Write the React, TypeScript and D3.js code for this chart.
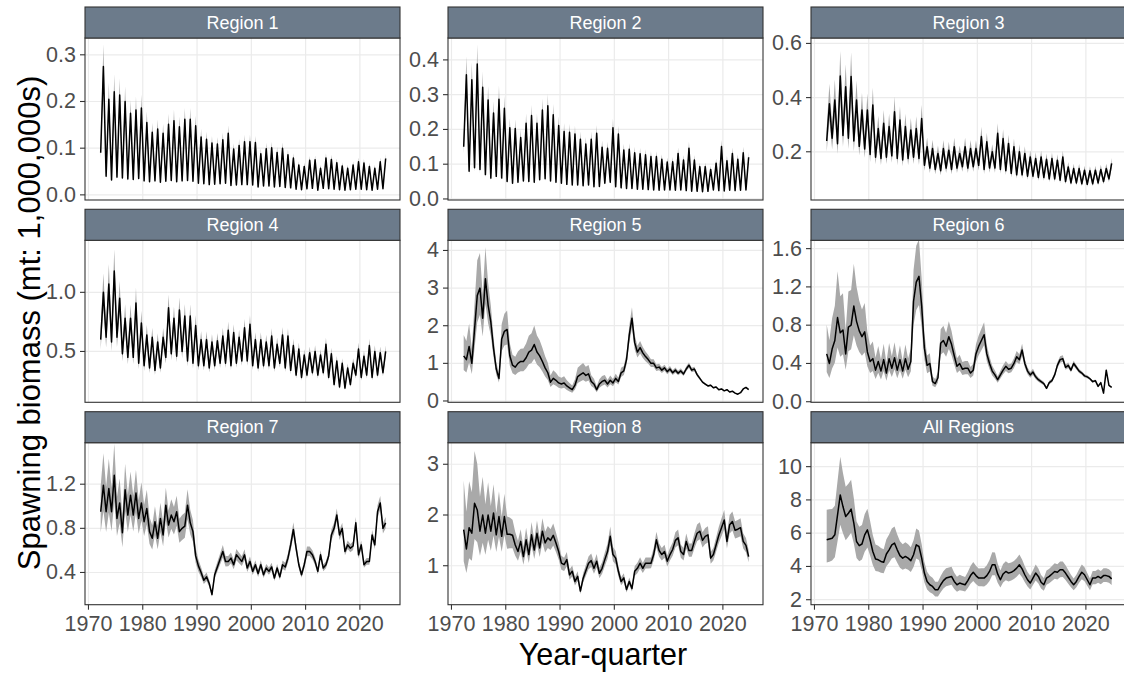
import React from "react";
import * as d3 from "d3";

// ---------- DATA ----------
// Half-year time grid (year + 0.25, year + 0.75), 1972–2024
const YEARS = d3.range(1972, 2025);
const TIMES = YEARS.flatMap((yr) => [yr + 0.25, yr + 0.75]);

// Seasonal regions: annual troughs and peaks (1972..2024)
const r1Trough = [0.09,0.04,0.032,0.038,0.036,0.034,0.033,0.035,0.03,0.028,0.03,0.027,0.029,0.031,0.028,0.03,0.031,0.029,0.025,0.024,0.022,0.023,0.024,0.025,0.02,0.021,0.022,0.022,0.021,0.017,0.019,0.019,0.017,0.018,0.016,0.015,0.012,0.011,0.013,0.014,0.01,0.014,0.013,0.012,0.011,0.01,0.011,0.012,0.012,0.011,0.01,0.012,0.013];
const r1Peak = [0.275,0.205,0.221,0.214,0.2,0.175,0.182,0.186,0.155,0.134,0.141,0.132,0.151,0.159,0.146,0.162,0.162,0.148,0.124,0.119,0.111,0.109,0.118,0.132,0.098,0.106,0.114,0.114,0.112,0.088,0.099,0.101,0.091,0.1,0.086,0.079,0.064,0.061,0.074,0.075,0.057,0.079,0.076,0.069,0.062,0.057,0.064,0.071,0.068,0.061,0.057,0.071,0.078];

const r2Trough = [0.15,0.08,0.09,0.085,0.07,0.06,0.065,0.06,0.05,0.045,0.048,0.052,0.05,0.048,0.055,0.058,0.052,0.048,0.045,0.042,0.04,0.04,0.038,0.04,0.035,0.036,0.045,0.048,0.035,0.032,0.03,0.03,0.028,0.028,0.027,0.026,0.025,0.026,0.026,0.025,0.026,0.024,0.022,0.022,0.021,0.022,0.026,0.024,0.023,0.025,0.024,0.025,0.026];
const r2Peak = [0.357,0.343,0.388,0.321,0.285,0.247,0.287,0.261,0.205,0.203,0.177,0.218,0.24,0.218,0.256,0.268,0.242,0.211,0.194,0.192,0.187,0.172,0.158,0.172,0.189,0.149,0.146,0.205,0.187,0.141,0.143,0.133,0.13,0.127,0.122,0.122,0.114,0.106,0.107,0.131,0.112,0.146,0.112,0.093,0.093,0.085,0.103,0.151,0.11,0.131,0.114,0.133,0.12];

const r3Trough = [0.24,0.25,0.23,0.26,0.25,0.24,0.22,0.21,0.19,0.18,0.175,0.18,0.185,0.175,0.17,0.175,0.18,0.175,0.15,0.14,0.135,0.13,0.14,0.135,0.14,0.145,0.14,0.145,0.15,0.135,0.14,0.14,0.135,0.13,0.12,0.115,0.115,0.11,0.11,0.105,0.105,0.1,0.1,0.095,0.09,0.085,0.085,0.082,0.08,0.082,0.085,0.09,0.1];
const r3Peak = [0.377,0.391,0.48,0.44,0.478,0.391,0.354,0.354,0.373,0.286,0.305,0.293,0.348,0.317,0.293,0.28,0.286,0.323,0.219,0.212,0.194,0.212,0.206,0.219,0.194,0.219,0.212,0.212,0.256,0.237,0.2,0.268,0.249,0.231,0.219,0.2,0.194,0.181,0.175,0.181,0.172,0.175,0.169,0.181,0.144,0.138,0.138,0.132,0.13,0.132,0.135,0.138,0.157];

const r4Trough = [0.6,0.62,0.58,0.62,0.48,0.45,0.45,0.4,0.38,0.36,0.34,0.36,0.45,0.48,0.46,0.5,0.42,0.4,0.38,0.38,0.36,0.38,0.4,0.4,0.38,0.4,0.42,0.42,0.38,0.36,0.38,0.38,0.36,0.4,0.36,0.34,0.3,0.28,0.3,0.32,0.3,0.32,0.28,0.22,0.2,0.19,0.22,0.3,0.28,0.3,0.28,0.3,0.32];
const r4Peak = [1.0,1.07,1.18,0.95,0.78,0.78,0.91,0.74,0.64,0.62,0.58,0.62,0.87,0.78,0.85,0.8,0.8,0.72,0.6,0.6,0.58,0.59,0.63,0.68,0.66,0.62,0.7,0.73,0.6,0.6,0.58,0.63,0.56,0.64,0.63,0.55,0.52,0.47,0.49,0.5,0.47,0.56,0.48,0.42,0.4,0.36,0.4,0.52,0.46,0.55,0.5,0.49,0.5];

// Smoother regions: half-yearly values (1972.25 .. 2024.75)
const r5 = [
  1.20,1.10, 1.45,1.00, 1.90,2.80, 3.00,2.20, 3.25,2.55,
  2.10,1.40, 0.85,0.60, 1.65,1.85, 1.90,1.20, 0.95,0.90,
  1.00,1.05, 1.05,1.15, 1.30,1.35, 1.50,1.30, 1.20,1.05,
  0.88,0.75, 0.50,0.60, 0.55,0.48, 0.45,0.48, 0.40,0.35,
  0.30,0.42, 0.65,0.70, 0.75,0.68, 0.72,0.52, 0.45,0.30,
  0.45,0.52, 0.55,0.45, 0.55,0.48, 0.60,0.52, 0.75,0.80,
  1.10,1.75, 2.20,1.55, 1.30,1.42, 1.28,1.18, 1.10,1.00,
  1.00,0.88, 0.90,0.82, 0.88,0.78, 0.85,0.75, 0.82,0.74,
  0.80,0.72, 0.85,0.95, 0.82,0.85, 0.70,0.60, 0.50,0.45,
  0.40,0.42, 0.35,0.37, 0.30,0.32, 0.27,0.30, 0.24,0.26,
  0.21,0.18, 0.22,0.32, 0.36,0.30,
];
const r6 = [
  0.50,0.40, 0.55,0.64, 0.88,0.72, 0.75,0.50, 0.78,0.80,
  1.00,0.84, 0.74,0.68, 0.73,0.52, 0.42,0.45, 0.33,0.42,
  0.32,0.44, 0.30,0.45, 0.35,0.46, 0.33,0.44, 0.32,0.45,
  0.34,0.42, 1.05,1.25, 1.31,1.00, 0.56,0.38, 0.40,0.21,
  0.19,0.25, 0.61,0.64, 0.58,0.68, 0.60,0.48, 0.37,0.40,
  0.34,0.35, 0.35,0.30, 0.33,0.50, 0.58,0.64, 0.70,0.50,
  0.40,0.32, 0.28,0.23, 0.28,0.33, 0.37,0.34, 0.35,0.40,
  0.47,0.44, 0.54,0.40, 0.32,0.28, 0.31,0.26, 0.23,0.21,
  0.19,0.14, 0.20,0.22, 0.28,0.38, 0.44,0.45, 0.36,0.38,
  0.33,0.40, 0.36,0.32, 0.30,0.27, 0.26,0.24, 0.21,0.22,
  0.16,0.20, 0.09,0.33, 0.17,0.15,
];
const r7 = [
  0.95,1.19, 0.95,1.16, 0.95,1.28, 0.89,1.03, 0.76,1.15,
  0.92,1.10, 0.92,1.12, 0.89,1.03, 0.86,0.98, 0.77,0.71,
  0.86,0.71, 0.89,0.74, 1.01,0.83, 0.92,0.86, 0.95,0.77,
  0.80,0.82, 1.01,0.85, 0.77,0.55, 0.46,0.40, 0.33,0.36,
  0.30,0.20, 0.38,0.45, 0.52,0.59, 0.50,0.50, 0.53,0.47,
  0.56,0.53, 0.50,0.56, 0.44,0.50, 0.41,0.47, 0.39,0.47,
  0.38,0.44, 0.41,0.45, 0.35,0.44, 0.36,0.47, 0.45,0.53,
  0.65,0.79, 0.62,0.47, 0.38,0.47, 0.59,0.59, 0.56,0.50,
  0.41,0.56, 0.44,0.47, 0.55,0.74, 0.80,0.92, 0.74,0.80,
  0.59,0.65, 0.62,0.64, 0.85,0.56, 0.65,0.47, 0.50,0.50,
  0.74,0.65, 0.95,1.03, 0.80,0.85,
];
const r8 = [
  1.71,1.33, 1.75,1.64, 2.23,2.10, 1.68,2.00, 1.64,2.00,
  1.68,2.04, 1.61,1.97, 1.58,1.97, 1.62,1.62, 1.60,1.41,
  1.28,1.48, 1.18,1.51, 1.22,1.61, 1.31,1.64, 1.35,1.68,
  1.45,1.55, 1.50,1.60, 1.45,1.28, 1.05,1.02, 1.12,0.82,
  0.89,0.69, 0.79,0.50, 0.75,0.90, 1.05,1.10, 0.95,1.09,
  0.85,0.95, 1.12,1.28, 1.58,1.22, 1.15,0.89, 0.69,0.76,
  0.53,0.69, 0.55,0.89, 0.95,1.05, 0.95,1.05, 1.05,1.05,
  1.22,1.51, 1.30,1.22, 1.28,1.09, 1.22,1.32, 1.50,1.55,
  1.28,1.22, 1.48,1.30, 1.30,1.48, 1.64,1.68, 1.50,1.58,
  1.61,1.15, 1.22,1.41, 1.60,1.75, 1.90,1.48, 1.81,1.87,
  1.70,1.72, 1.75,1.48, 1.40,1.18,
];
const rAll = [
  5.60,5.65, 5.70,5.90, 7.10,8.30, 7.60,7.00, 7.20,7.45,
  6.60,5.50, 5.25,5.35, 5.90,6.20, 5.60,4.90, 4.45,4.40,
  4.30,4.25, 4.75,5.00, 5.30,5.40, 5.00,4.65, 4.50,4.60,
  4.50,4.35, 4.70,5.30, 5.20,4.50, 3.60,3.10, 2.90,2.80,
  2.60,2.60, 2.90,3.15, 3.30,3.35, 3.40,3.10, 2.90,3.00,
  2.95,2.90, 3.15,3.45, 3.65,3.45, 3.30,3.30, 3.30,3.45,
  3.70,4.10, 4.10,3.55, 3.20,3.55, 3.70,3.60, 3.65,3.75,
  3.90,4.10, 3.85,3.50, 3.20,3.00, 3.30,3.60, 3.40,3.05,
  2.90,3.30, 3.40,3.55, 3.70,3.65, 3.80,3.80, 3.60,3.35,
  3.10,2.90, 3.10,3.40, 3.65,3.50, 3.20,2.90, 3.30,3.30,
  3.40,3.30, 3.45,3.45, 3.40,3.25,
];

// Log half-width of the uncertainty ribbon, by 5-year block (centres)
const BAND_EPOCHS = [1972.5, 1977.5, 1982.5, 1987.5, 1992.5, 1997.5, 2002.5, 2007.5, 2012.5, 2017.5, 2022.5];
const bandR1 = [0.16,0.15,0.14,0.14,0.13,0.12,0.12,0.12,0.12,0.12,0.12];
const bandR2 = [0.14,0.13,0.12,0.12,0.12,0.12,0.12,0.12,0.12,0.12,0.12];
const bandR3 = [0.18,0.17,0.15,0.15,0.14,0.14,0.13,0.13,0.12,0.12,0.12];
const bandR4 = [0.15,0.14,0.12,0.12,0.11,0.10,0.10,0.10,0.10,0.10,0.10];
const bandR5 = [0.38,0.18,0.28,0.30,0.32,0.25,0.13,0.10,0.08,0.06,0.05];
const bandR6 = [0.48,0.36,0.32,0.28,0.22,0.20,0.16,0.12,0.09,0.07,0.05];
const bandR7 = [0.22,0.18,0.15,0.14,0.10,0.09,0.08,0.08,0.07,0.06,0.06];
const bandR8 = [0.45,0.25,0.15,0.14,0.12,0.12,0.11,0.10,0.10,0.10,0.10];
const bandAll = [0.28,0.20,0.17,0.17,0.17,0.15,0.17,0.14,0.13,0.12,0.12];

const X_TICKS = [1970, 1980, 1990, 2000, 2010, 2020];
const TITLES = ["Region 1","Region 2","Region 3","Region 4","Region 5","Region 6","Region 7","Region 8","All Regions"];
const Y_TICKS = [
  [0, 0.1, 0.2, 0.3],
  [0, 0.1, 0.2, 0.3, 0.4],
  [0.2, 0.4, 0.6],
  [0.5, 1.0],
  [0, 1, 2, 3, 4],
  [0, 0.4, 0.8, 1.2, 1.6],
  [0.4, 0.8, 1.2],
  [1, 2, 3],
  [2, 4, 6, 8, 10],
];
const Y_FORMATS = [".1f", ".1f", ".1f", ".1f", "d", ".1f", ".1f", "d", "d"];
const Y_DOMAINS = [
  [-0.011, 0.336], [-0.003, 0.463], [0.022, 0.62],
  [0.07, 1.44], [-0.035, 4.27], [-0.006, 1.687],
  [0.108, 1.576], [0.232, 3.425], [1.7, 11.44],
];

const interleave = (lo: number[], hi: number[]) => lo.flatMap((v, i) => [v, hi[i]]);
const SERIES = [
  interleave(r1Trough, r1Peak),
  interleave(r2Trough, r2Peak),
  interleave(r3Trough, r3Peak),
  interleave(r4Trough, r4Peak),
  r5, r6, r7, r8, rAll,
];
const BANDS = [bandR1, bandR2, bandR3, bandR4, bandR5, bandR6, bandR7, bandR8, bandAll];

// ---------- LAYOUT ----------
const W = 1124, H = 673;
const COL_X = [85, 448, 811];
const PW = 315;
const STRIP_TOP = [7, 209.3, 411.7];
const STRIP_H = 31;
const PH = 162;
const X_DOMAIN = [1969.36, 2027.39];
const FONT = "'Liberation Sans', Arial, Helvetica, sans-serif";

function Panel({ idx }: { idx: number }) {
  const col = idx % 3, row = Math.floor(idx / 3);
  const x0 = COL_X[col];
  const top = STRIP_TOP[row] + STRIP_H;
  const bottom = top + PH;
  const x = d3.scaleLinear().domain(X_DOMAIN).range([x0, x0 + PW]);
  const y = d3.scaleLinear().domain(Y_DOMAINS[idx]).range([bottom, top]);
  const bw = d3.scaleLinear().domain(BAND_EPOCHS).range(BANDS[idx]).clamp(true);
  const vals = SERIES[idx];
  const pts = TIMES.map((t, i) => ({ t, v: vals[i], w: bw(t) }));
  const area = d3.area<any>()
    .x((d) => x(d.t))
    .y0((d) => y(d.v * Math.exp(-d.w)))
    .y1((d) => y(d.v * Math.exp(d.w)));
  const line = d3.line<any>().x((d) => x(d.t)).y((d) => y(d.v));
  const fmt = d3.format(Y_FORMATS[idx]);
  const clipId = `clip-${idx}`;
  return (
    <g>
      <defs>
        <clipPath id={clipId}>
          <rect x={x0} y={top} width={PW} height={PH} />
        </clipPath>
      </defs>
      <rect x={x0} y={top} width={PW} height={PH} fill="#ffffff" />
      {Y_TICKS[idx].map((v) => (
        <line key={"gy" + v} x1={x0} x2={x0 + PW} y1={y(v)} y2={y(v)} stroke="#ebebeb" strokeWidth={1.2} />
      ))}
      {X_TICKS.map((v) => (
        <line key={"gx" + v} x1={x(v)} x2={x(v)} y1={top} y2={bottom} stroke="#ebebeb" strokeWidth={1.2} />
      ))}
      <g clipPath={`url(#${clipId})`}>
        <path d={area(pts) || ""} fill="#a9a9a9" />
        <path d={line(pts) || ""} fill="none" stroke="#000000" strokeWidth={1.5} strokeLinejoin="round" />
      </g>
      <rect x={x0} y={top} width={PW} height={PH} fill="none" stroke="#333333" strokeWidth={1.1} />
      <rect x={x0} y={STRIP_TOP[row]} width={PW} height={STRIP_H} fill="#6c7b8b" stroke="#333333" strokeWidth={1.1} />
      <text x={x0 + PW / 2} y={STRIP_TOP[row] + STRIP_H / 2} textAnchor="middle" dominantBaseline="central"
        fill="#ffffff" fontSize={18} fontFamily={FONT}>{TITLES[idx]}</text>
      {Y_TICKS[idx].map((v) => (
        <g key={"ty" + v}>
          <line x1={x0 - 5} x2={x0} y1={y(v)} y2={y(v)} stroke="#333333" strokeWidth={1.1} />
          <text x={x0 - 9} y={y(v)} textAnchor="end" dominantBaseline="central" fill="#4d4d4d"
            fontSize={21.5} fontFamily={FONT}>{fmt(v)}</text>
        </g>
      ))}
      {row === 2 && X_TICKS.map((v) => (
        <g key={"tx" + v}>
          <line x1={x(v)} x2={x(v)} y1={bottom} y2={bottom + 5} stroke="#333333" strokeWidth={1.1} />
          <text x={x(v)} y={bottom + 26} textAnchor="middle" fill="#4d4d4d" fontSize={21.5} fontFamily={FONT}>{v}</text>
        </g>
      ))}
    </g>
  );
}

export default function App() {
  return (
    <svg width={W} height={H} viewBox={`0 0 ${W} ${H}`}
      style={{ position: "absolute", left: 0, top: 0, background: "#ffffff" }}>
      <rect x={0} y={0} width={W} height={H} fill="#ffffff" />
      {TITLES.map((_, i) => <Panel key={i} idx={i} />)}
      <text transform="translate(40, 323) rotate(-90)" textAnchor="middle" fontSize={31} fill="#000000"
        fontFamily={FONT}>Spawning biomass (mt: 1,000,000s)</text>
      <text x={603} y={665} textAnchor="middle" fontSize={30.5} fill="#000000" fontFamily={FONT}>Year-quarter</text>
    </svg>
  );
}
